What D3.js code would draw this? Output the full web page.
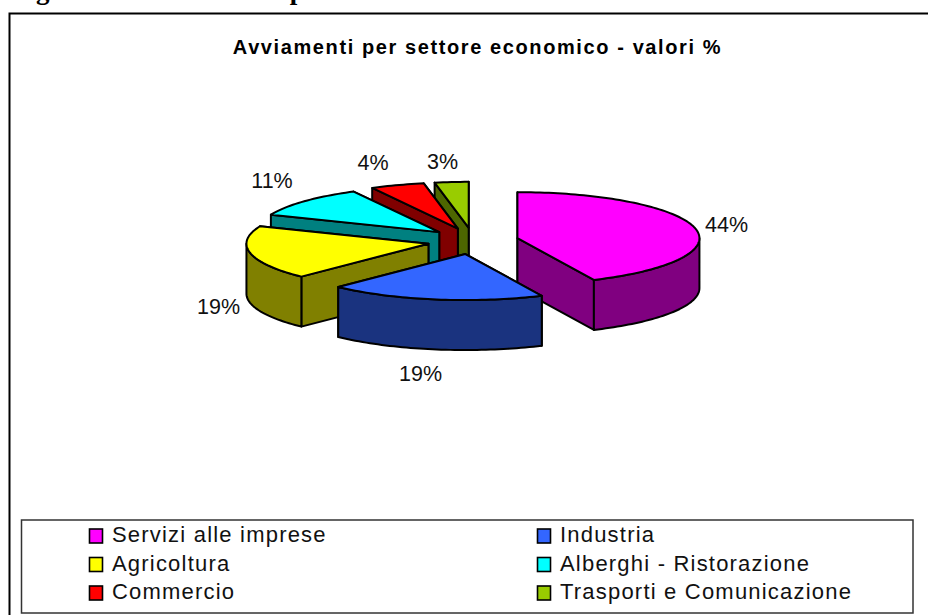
<!DOCTYPE html>
<html lang="it">
<head>
  <meta charset="UTF-8">
  <title>Avviamenti per settore economico</title>
  <script src="https://d3js.org/d3.v7.min.js"></script>
  <style>
    html, body { margin: 0; padding: 0; background: #fff; }
    svg { display: block; font-family: "Liberation Sans", Arial, sans-serif; }
  </style>
</head>
<body>
  <svg id="chart" width="928" height="615"></svg>
  <script>
    // Dati: ampiezza degli spicchi, etichette come stampate
    const categories = ['Servizi alle imprese', 'Industria', 'Agricoltura', 'Alberghi - Ristorazione', 'Commercio', 'Trasporti e Comunicazione'];
    const values = [43.1, 19.2, 18.9, 11.0, 4.8, 3.0];
    const valueLabels = ['44%', '19%', '19%', '11%', '4%', '3%'];
    const topColors = ['#ff00ff', '#3366ff', '#ffff00', '#00ffff', '#ff0000', '#99cc00'];
    const sideColors = ['#800080', '#1a337f', '#808000', '#008080', '#800000', '#4d6600'];

    const svg = d3.select('#chart');

    // intestazione tagliata in alto e cornice (esce a destra e in basso)
    svg.append('text').attr('x', 12).attr('y', -1)
      .style('font-family', '"Liberation Serif", serif').style('font-weight', 'bold').style('font-size', '27px')
      .text('Figura 3.1 - Avviamenti per settore economico');

    svg.append('rect').attr('x', 9.5).attr('y', 13.5).attr('width', 940).attr('height', 640)
      .attr('fill', '#fff').attr('stroke', '#000').attr('stroke-width', 2);

    svg.append('text').attr('x', 477.5).attr('y', 54).attr('text-anchor', 'middle')
      .style('font-weight', 'bold').style('font-size', '20px').style('letter-spacing', '1.6px')
      .text('Avviamenti per settore economico - valori %');

    // Torta 3D: proiezione di un cerchio unitario
    const cx = 473, cy = 241, rx = 182, ry = 46, depth = 50, explode = 0.25;
    const sx = d3.scaleLinear().domain([-1, 1]).range([-rx, rx]);
    const sy = d3.scaleLinear().domain([-1, 1]).range([-ry, ry]);

    const pie = d3.pie().sort(null)(values);
    const slices = pie.map((p, i) => {
      const mid = (p.startAngle + p.endAngle) / 2;
      return {
        i, a0: p.startAngle, a1: p.endAngle,
        ox: cx + sx(explode * Math.sin(mid)),
        oy: cy - sy(explode * 1.15 * Math.cos(mid))
      };
    });

    const line = d3.line();
    const rimPt = (s, a, dz) => [s.ox + sx(Math.sin(a)), s.oy - sy(Math.cos(a)) + dz];
    const arcPts = (s, a0, a1, dz) => {
      const n = Math.max(2, Math.ceil((a1 - a0) * 40));
      return d3.range(n + 1).map(k => rimPt(s, a0 + (a1 - a0) * k / n, dz));
    };

    // ordine di disegno, dal fondo al davanti
    const order = [5, 4, 3, 2, 0, 1];
    const g = svg.append('g').attr('stroke', '#000').attr('stroke-width', 2).attr('stroke-linejoin', 'round');

    order.forEach(i => {
      const s = slices[i];
      const apex = [s.ox, s.oy];
      const apexLow = [s.ox, s.oy + depth];

      // pareti radiali
      [s.a0, s.a1]
        .sort((a, b) => Math.cos(b) - Math.cos(a))
        .forEach(a => {
          g.append('path').attr('fill', sideColors[i])
            .attr('d', line([apex, rimPt(s, a, 0), rimPt(s, a, depth), apexLow]) + 'Z');
        });

      // bordo esterno, solo la parte rivolta verso chi guarda
      const from = Math.max(s.a0, Math.PI / 2), to = Math.min(s.a1, 3 * Math.PI / 2);
      if (to > from) {
        g.append('path').attr('fill', sideColors[i])
          .attr('d', line(arcPts(s, from, to, 0).concat(arcPts(s, from, to, depth).reverse())) + 'Z');
      }

      // faccia superiore
      g.append('path').attr('fill', topColors[i])
        .attr('d', line([apex].concat(arcPts(s, s.a0, s.a1, 0))) + 'Z');
    });

    // Etichette percentuali
    const labelX = [726.5, 420.5, 218.5, 272, 373, 442.5];
    const labelY = [232, 381, 314, 188, 170, 169];
    svg.append('g').selectAll('text').data(valueLabels).join('text')
      .attr('x', (d, i) => labelX[i]).attr('y', (d, i) => labelY[i])
      .attr('text-anchor', 'middle')
      .style('font-size', '21.5px').attr('fill', '#111')
      .text(d => d);

    // Legenda
    svg.append('rect').attr('x', 21.5).attr('y', 520).attr('width', 891.5).attr('height', 93)
      .attr('fill', '#fff').attr('stroke', '#333').attr('stroke-width', 1.5);

    const legendX = d3.scalePoint().domain([0, 1]).range([89.5, 537.5]);
    const legendY = d3.scalePoint().domain([0, 1, 2]).range([536, 593]);
    const legend = svg.append('g').selectAll('g').data(categories).join('g')
      .attr('transform', (d, i) => `translate(${legendX(i % 2)},${legendY(Math.floor(i / 2))})`);
    legend.append('rect').attr('x', 0).attr('y', -7).attr('width', 13).attr('height', 14)
      .attr('fill', (d, i) => topColors[i]).attr('stroke', '#000').attr('stroke-width', 1.6);
    legend.append('text').attr('x', 22.5).attr('y', 6)
      .style('font-size', '22px').style('letter-spacing', '1.2px').attr('fill', '#111')
      .text(d => d);
  </script>
</body>
</html>
